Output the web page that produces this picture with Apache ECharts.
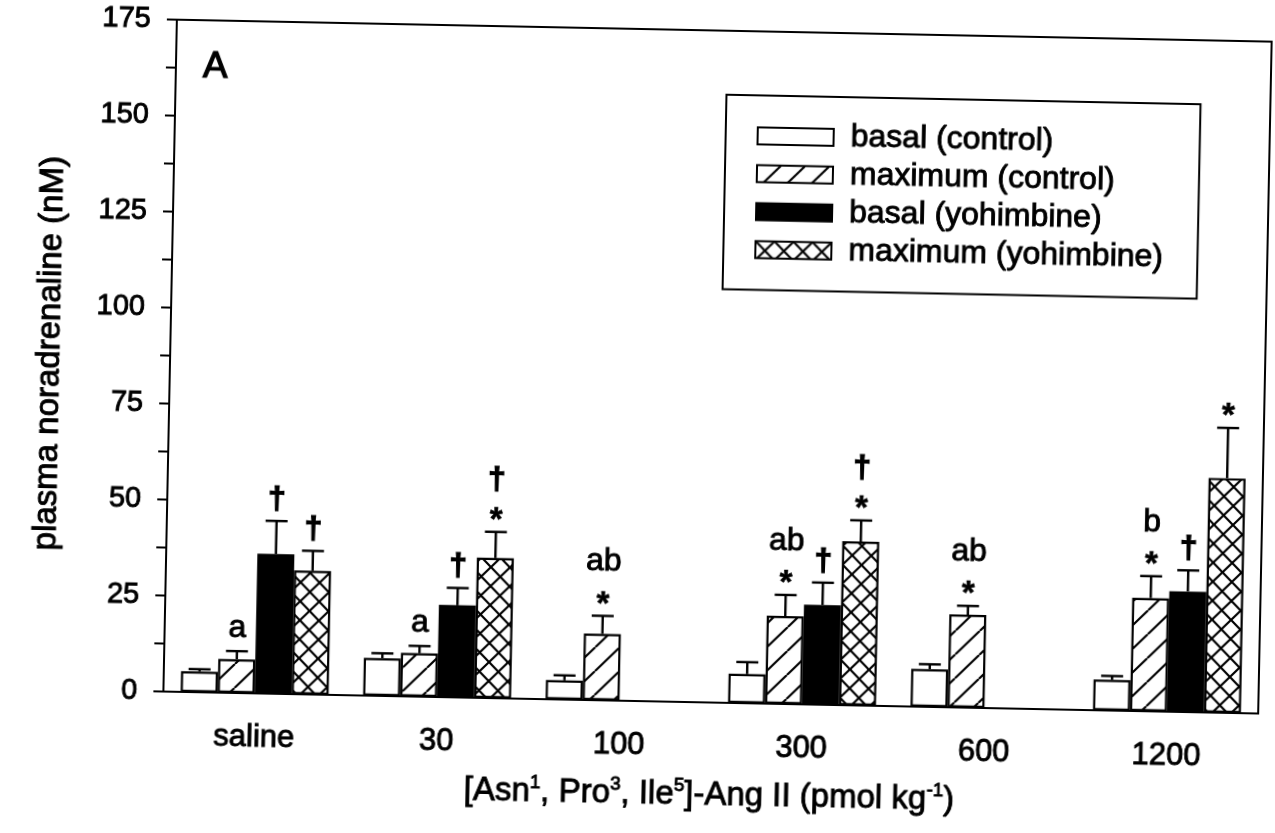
<!DOCTYPE html>
<html><head><meta charset="utf-8">
<script src="https://cdn.jsdelivr.net/npm/echarts@6/dist/echarts.min.js"></script>
<style>
html,body{margin:0;padding:0;background:#fff;overflow:hidden;}
#wrap{width:1275px;height:833px;transform:rotate(1.15deg);transform-origin:50% 50%;}
#chart{width:1275px;height:833px;}
</style></head><body><div id="wrap"><div id="chart"></div></div>
<script>
// ---- data ----
const categories = ['saline', '30', '100', '300', '600', '1200'];
const seriesNames = ['basal (control)', 'maximum (control)', 'basal (yohimbine)', 'maximum (yohimbine)'];
const basalControl    = [5.4, 9.8, 5.0, 7.6, 9.8, 8.0];
const basalControlErr = [0.6, 1.3, 1.3, 3.1, 1.3, 1.0];
const maxControl      = [8.8, 11.3, 17.3, 22.9, 24.2, 29.5];
const maxControlErr   = [2.1, 1.9, 4.7, 5.5, 2.3, 5.7];
const basalYoh        = [36.4, 24.0, null, 26.0, null, 31.4];
const basalYohErr     = [8.6, 4.5, null, 5.8, null, 5.5];
const maxYoh          = [32.2, 36.5, null, 42.7, null, 61.1];
const maxYohErr       = [5.2, 6.8, null, 5.5, null, 13.1];
const notesBasalControl = ['', '', '', '', '', ''];
const notesMaxControl   = ['a', 'a', 'ab\n*', 'ab\n*', 'ab\n*', 'b\n*'];
const notesBasalYoh     = ['\u2020', '\u2020', '', '\u2020', '', '\u2020'];
const notesMaxYoh       = ['\u2020', '\u2020\n*', '', '\u2020\n*', '', '*'];
const yMin = 0, yMax = 175, yStep = 25;
const panelLabel = 'A';
const yTitle = 'plasma noradrenaline (nM)';
const xTitle = '[Asn{sup|1}, Pro{sup|3}, Ile{sup|5}]-Ang II (pmol kg{sup|-1})';

// ---- styles ----
const FONT = "'Liberation Sans', Arial, Helvetica, sans-serif";
const BAR_W = 37;
const INK = { color: '#000', textBorderColor: '#000', textBorderWidth: 0.9 };

function makePattern(period, cross) {
  const c = document.createElement('canvas');
  c.width = period; c.height = period;
  const g = c.getContext('2d');
  g.fillStyle = '#fff'; g.fillRect(0, 0, period, period);
  g.strokeStyle = '#000'; g.lineWidth = 2.2;
  g.beginPath();
  for (let k = -1; k <= 1; k++) {
    g.moveTo(k * period, period); g.lineTo(k * period + period, 0);
    if (cross) { g.moveTo(k * period, 0); g.lineTo(k * period + period, period); }
  }
  g.stroke();
  return { image: c, repeat: 'repeat' };
}
const fills = ['#ffffff', makePattern(24, false), '#000000', makePattern(19, true)];
const values = [basalControl, maxControl, basalYoh, maxYoh];
const errors = [basalControlErr, maxControlErr, basalYohErr, maxYohErr];
const notes = [notesBasalControl, notesMaxControl, notesBasalYoh, notesMaxYoh];

const barSeries = seriesNames.map((name, s) => ({
  name: name, type: 'bar', barWidth: BAR_W, barGap: '0%',
  data: values[s].map(v => v == null ? '-' : v),
  itemStyle: { color: fills[s], borderColor: '#000', borderWidth: 2.2 },
  emphasis: { disabled: true }, z: 2
}));

function tokenStyle(t) {
  if (t === '*') return { font: 'bold 33px ' + FONT, dy: 9, bw: 0.6 };
  if (t === '\u2020') return { font: 'bold 32px ' + FONT, dy: -1, bw: 1.2 };
  return { font: '32px ' + FONT, dy: -3, bw: 0.9 };
}

const errSeries = seriesNames.map((name, s) => ({
  name: name + ' error', type: 'custom', z: 5, silent: true,
  data: values[s].map((v, i) => v == null ? null : [i, v, errors[s][i]]).filter(d => d),
  encode: { x: 0, y: 1 },
  renderItem: function (params, api) {
    const i = api.value(0), v = api.value(1), e = api.value(2);
    const top = api.coord([i, v]);
    const cap = api.coord([i, v + e]);
    const x = top[0] + (s - 1.5) * BAR_W;
    const children = [
      { type: 'line', shape: { x1: x, y1: top[1], x2: x, y2: cap[1] }, style: { stroke: '#000', lineWidth: 2.4 } },
      { type: 'line', shape: { x1: x - 11, y1: cap[1], x2: x + 11, y2: cap[1] }, style: { stroke: '#000', lineWidth: 2.4 } }
    ];
    const note = notes[s][i];
    if (note) {
      const toks = note.split('\n').reverse();
      toks.forEach((t, k) => {
        const st = tokenStyle(t);
        const yc = cap[1] - 20 - k * 31 + st.dy;
        children.push({ type: 'text', style: {
          text: t, x: x, y: yc, font: st.font, fill: '#000', stroke: '#000', lineWidth: st.bw,
          align: 'center', verticalAlign: 'middle', textAlign: 'center', textVerticalAlign: 'middle' } });
      });
    }
    return { type: 'group', children: children };
  }
}));

const chart = echarts.init(document.getElementById('chart'), null, { renderer: 'canvas' });
chart.setOption({
  backgroundColor: '#fff',
  animation: false,
  title: { text: panelLabel, left: 196, top: 57, padding: 0,
    textStyle: Object.assign({ fontFamily: FONT, fontSize: 37, fontWeight: 'normal', textBorderWidth: 1.2 }, { color: '#000', textBorderColor: '#000' }) },
  grid: { left: 169, right: 11, top: 29, bottom: 132, show: true, borderColor: '#000', borderWidth: 2, backgroundColor: 'transparent' },
  legend: {
    data: seriesNames, orient: 'vertical', left: 720, top: 93, icon: 'rect',
    itemWidth: 76, itemHeight: 17, itemGap: 5,
    padding: [24, 34, 24, 31],
    borderColor: '#000', borderWidth: 2, backgroundColor: '#fff',
    selectedMode: false,
    itemStyle: { borderColor: '#000', borderWidth: 2 },
    textStyle: Object.assign({ fontFamily: FONT, fontSize: 32, lineHeight: 30, padding: [0, 0, 0, 12] }, INK)
  },
  xAxis: {
    type: 'category', data: categories, boundaryGap: true,
    axisLine: { lineStyle: { color: '#000', width: 2 } },
    axisTick: { alignWithLabel: true, length: 10, lineStyle: { color: '#000', width: 2 } },
    axisLabel: Object.assign({ fontFamily: FONT, fontSize: 31, margin: 29 }, INK),
    name: xTitle, nameLocation: 'middle', nameGap: 74,
    nameTextStyle: Object.assign({ fontFamily: FONT, fontSize: 33, lineHeight: 38,
      rich: { sup: Object.assign({ fontFamily: FONT, fontSize: 19, verticalAlign: 'top', lineHeight: 24 }, INK) } }, INK)
  },
  yAxis: {
    type: 'value', min: yMin, max: yMax, interval: yStep,
    axisLine: { show: true, lineStyle: { color: '#000', width: 2 } },
    axisTick: { show: true, length: 10, lineStyle: { color: '#000', width: 2 } },
    minorTick: { show: true, splitNumber: 2, length: 10, lineStyle: { color: '#000', width: 2 } },
    splitLine: { show: false },
    axisLabel: Object.assign({ fontFamily: FONT, fontSize: 29, margin: 26 }, INK),
    name: yTitle, nameLocation: 'middle', nameGap: 104, nameRotate: 90,
    nameTextStyle: Object.assign({ fontFamily: FONT, fontSize: 33 }, INK)
  },
  series: barSeries.concat(errSeries)
});
</script></body></html>
